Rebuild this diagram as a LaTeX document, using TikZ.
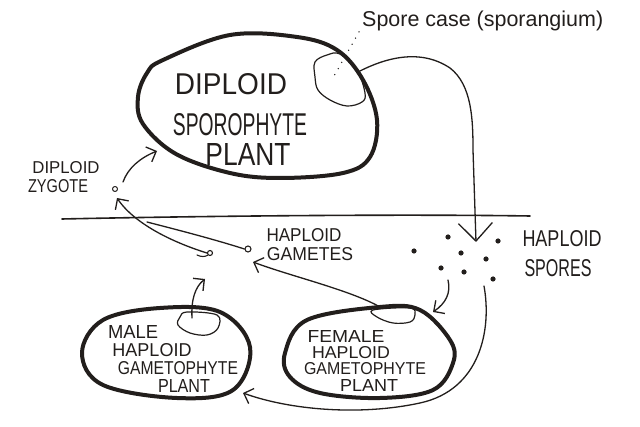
\documentclass[tikz,border=0pt]{standalone}
\usepackage{fontspec}
\setmainfont{Liberation Sans}
\usepackage{graphicx}
\usetikzlibrary{arrows.meta}
\definecolor{ink}{HTML}{221E1C}
\newcommand{\hwtext}[3]{\resizebox{#1pt}{#2pt}{#3}}
\begin{document}
\begin{tikzpicture}[x=1pt,y=-1pt,line cap=round,line join=round,
  inkline/.style={draw=ink,line width=1.3pt},
  outline/.style={draw=ink,line width=4pt},
  blob/.style={draw=ink,line width=1.2pt},
  lbl/.style={inner sep=0pt,text=ink,anchor=center},
  tipsmall/.style={-{Straight Barb[length=8pt,width=16pt]}},
  tipbig/.style={-{Straight Barb[length=18pt,width=34pt]}},
  dotmark/.style={fill=ink,draw=none}]
\useasboundingbox (0,0) rectangle (640,427);
\fill[white] (0,0) rectangle (640,427);

% ---- sporophyte ----
\draw[outline] plot[smooth cycle,tension=0.6] coordinates {(163,60) (230,35) (297,37) (337,50) (363,80) (377,120) (370,157) (343,173) (280,178) (230,173) (176,154) (143,124) (138,97) (147,73)};
\draw[blob] plot[smooth cycle,tension=0.6] coordinates {(315,62) (327,55) (340,54) (357,70) (365,93) (362,102) (347,106) (330,100) (318,90) (315,77)};
\node[lbl] (t1) at (231,84) {\hwtext{112}{21}{DIPLOID}};
\node[lbl] (t2) at (240,125) {\hwtext{134}{22}{SPOROPHYTE}};
\node[lbl] (t3) at (248,155) {\hwtext{85}{22}{PLANT}};
\node[inner sep=0pt,text=ink,anchor=base west] (sclabel) at (362,27) {\resizebox{241pt}{!}{\fontsize{20}{24}\selectfont Spore case (sporangium)}};
\coordinate (dotA) at (359,32);
\coordinate (dotB) at (334,76);
\draw[ink,line width=1.5pt,dash pattern=on 0pt off 7pt] (dotA) -- (dotB);

% ---- dividing line ----
\coordinate (hl1) at (62,219);
\coordinate (hl2) at (530,216);
\draw[inkline,line width=1.6pt] (hl1) .. controls (200,216) and (400,214) .. (hl2);

% ---- sporangium to spores ----
\coordinate (scout) at (358,72);
\coordinate (sptip) at (476,242);
\draw[inkline,tipbig] (scout) .. controls (385,58) and (420,48) .. (450,68) .. controls (472,85) and (473,120) .. (473,150) -- (sptip);

% spores
\foreach \p in {(448,237),(414,251),(461,253),(498,241),(486,259),(441,268),(464,272),(493,279)}
  \fill[dotmark] \p circle (2.6);
\node[lbl] (t9) at (562,239) {\hwtext{79}{16}{HAPLOID}};
\node[lbl] (t10) at (558,268) {\hwtext{67}{17}{SPORES}};

% ---- zygote ----
\node[draw=ink,line width=1pt,circle,inner sep=0pt,minimum size=5pt] (zyg) at (115,189) {};
\node[lbl] (t5) at (66,168) {\hwtext{67}{12}{DIPLOID}};
\node[lbl] (t6) at (58,186) {\hwtext{60}{13}{ZYGOTE}};
\coordinate (zygout) at (123,182);
\coordinate (spotip) at (157,151);
\draw[inkline,tipsmall] (zygout) .. controls (128,168) and (140,158) .. (spotip);

% ---- gametes ----
\node[draw=ink,line width=1.1pt,circle,inner sep=0pt,minimum size=5pt] (sperm) at (210,253) {};
\draw[ink,line width=1.1pt] (sperm.south west) .. controls (205,257) and (201,257) .. (197,255);
\node[draw=ink,line width=1.1pt,circle,inner sep=0pt,minimum size=6pt] (egg) at (248,249) {};
\node[lbl] (t7) at (304,235) {\hwtext{75}{13}{HAPLOID}};
\node[lbl] (t8) at (310,254) {\hwtext{86}{13}{GAMETES}};
\coordinate (zygin) at (117,198);
\coordinate (eggjoin) at (147,222);
\draw[inkline,tipsmall] (sperm.west) .. controls (178,244) and (136,226) .. (zygin);
\draw[inkline] (egg.west) .. controls (210,238) and (170,228) .. (eggjoin);

% ---- male gametophyte ----
\draw[outline] plot[smooth cycle,tension=0.6] coordinates {(82,353) (103,320) (160,308) (220,312) (250,347) (233,390) (177,398) (103,385)};
\draw[blob] plot[smooth cycle,tension=0.6] coordinates {(180,317) (187,312) (217,315) (218,328) (207,335) (190,333) (178,325)};
\node[lbl] (t11) at (133,332) {\hwtext{50}{13}{MALE}};
\node[lbl] (t12) at (152,350) {\hwtext{79}{13}{HAPLOID}};
\node[lbl] (t13) at (178,368) {\hwtext{120}{13}{GAMETOPHYTE}};
\node[lbl] (t14) at (184,386) {\hwtext{52}{13}{PLANT}};
\coordinate (maleout) at (192,318);
\coordinate (maletip) at (205,279);
\draw[inkline,tipsmall] (maleout) .. controls (191,300) and (195,287) .. (maletip);

% ---- female gametophyte ----
\draw[outline] plot[smooth cycle,tension=0.6] coordinates {(285,353) (307,320) (380,307) (420,310) (450,340) (453,363) (433,390) (380,398) (320,393) (290,377)};
\draw[blob] plot[smooth cycle,tension=0.6] coordinates {(373,310) (377,317) (393,323) (410,322) (415,315) (410,308)};
\node[lbl] (t15) at (346,337) {\hwtext{77}{12}{FEMALE}};
\node[lbl] (t16) at (351,353) {\hwtext{78}{12}{HAPLOID}};
\node[lbl] (t17) at (365,369) {\hwtext{122}{12}{GAMETOPHYTE}};
\node[lbl] (t18) at (369,386) {\hwtext{58}{12}{PLANT}};
\coordinate (femout) at (380,307);
\coordinate (eggtip) at (253,262);
\draw[inkline,tipsmall] (femout) .. controls (350,290) and (290,276) .. (eggtip);

% ---- spores to gametophytes ----
\coordinate (sp1) at (448,280);
\coordinate (femtip) at (433,312);
\draw[inkline,tipsmall] (sp1) .. controls (451,293) and (446,303) .. (femtip);
\coordinate (sp2) at (484,286);
\coordinate (maletip2) at (243,393);
\draw[inkline,tipsmall] (sp2) .. controls (492,330) and (480,390) .. (420,403) .. controls (360,416) and (290,410) .. (maletip2);
\end{tikzpicture}
\end{document}
